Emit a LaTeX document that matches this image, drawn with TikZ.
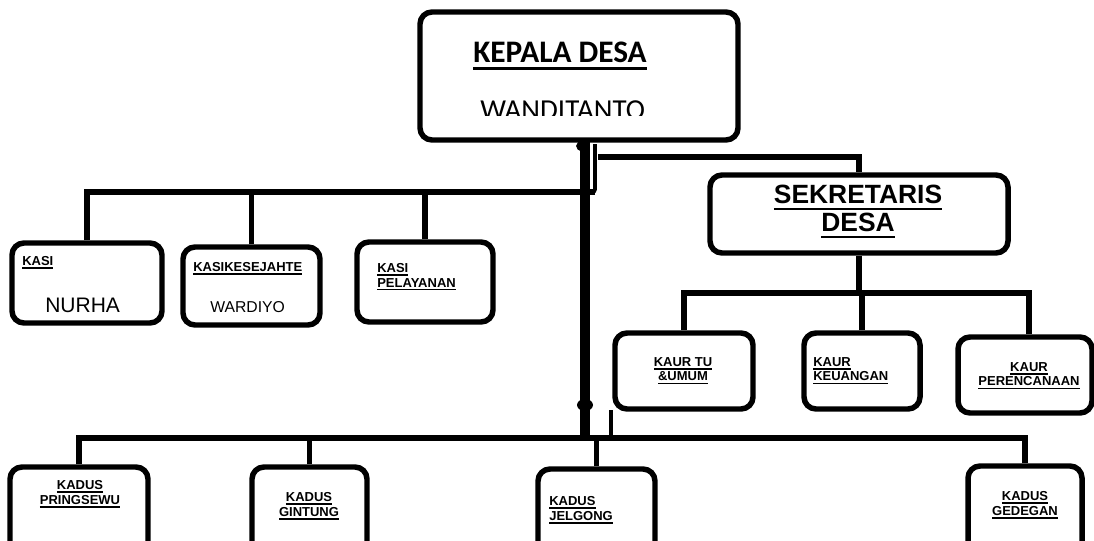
\documentclass[tikz,border=0pt]{standalone}
\usepackage{fontspec}
\setmainfont{Liberation Sans}
\newfontfamily\calib{Carlito}
\usetikzlibrary{fit}
\newcommand\myul[2]{\leavevmode\vtop{\hbox{#2}\kern0.14em\hrule height #1}}
\tikzset{
  box/.style={draw, line width=4.1pt, rounded corners=9pt, inner sep=0pt},
  conn/.style={line width=3.8pt},
  thinconn/.style={line width=2.8pt},
  trunk/.style={line width=7pt},
  lbl/.style={inner sep=0pt, font=\bfseries\fontsize{9.75}{11}\selectfont},
}
\begin{document}
\begin{tikzpicture}[x=0.75pt,y=-0.75pt]
\useasboundingbox (0,0) rectangle (1094,540);
% boxes
\node[box, fit={(420,12)(738,140)}] (kd) {};
\node[box, fit={(12,243)(162,323)}] (ks1) {};
\node[box, fit={(183,247)(320,325)}] (ks2) {};
\node[box, fit={(357,242)(493,322)}] (ks3) {};
\node[box, fit={(710,175)(1008,253)}] (sek) {};
\node[box, fit={(615,333)(753,409)}] (kr1) {};
\node[box, fit={(804,333)(920,409)}] (kr2) {};
\node[box, fit={(958,337)(1092,413)}] (kr3) {};
\node[box, fit={(10,467)(148,570)}] (kds1) {};
\node[box, fit={(252,467)(367,570)}] (kds2) {};
\node[box, fit={(538,469)(655,570)}] (kds3) {};
\node[box, fit={(968,466)(1082,570)}] (kds4) {};
% junction coordinates
\coordinate (tTop) at (585,141);
\coordinate (tBot) at (585,438);
\coordinate (jLt) at (595,144);
\coordinate (jL) at (595,192);
\coordinate (jR) at (598,157);
\coordinate (jS) at (859,293);
\coordinate (jB) at (611,438);
\coordinate (jBr) at (611,410);
% trunk
\draw[trunk] (tTop) -- (tBot);
\fill (582,146) ellipse (6 and 5);
\fill (585,405) ellipse (8 and 6);
% left branch (kasi)
\draw[thinconn, rounded corners=2pt] (jLt) -- (jL) -- (424,192);
\draw[line width=5pt] (424,192) -- (jL);
\draw[conn] (ks1.north) |- (jL);
\draw[conn] (ks2.north) -- (ks2.north |- jL);
\draw[conn] (ks3.north) -- (ks3.north |- jL);
% right branch (sekretaris)
\draw[conn] (jR) -| (sek.north);
\draw[conn] (sek.south) -- (jS);
\draw[conn] (kr1.north) |- (jS);
\draw[conn] (kr2.north) -- (kr2.north |- jS);
\draw[conn] (kr3.north -| 1029,0) |- (jS);
% bottom branch (kadus)
\draw[thinconn] (jBr) -- (jB);
\draw[conn] (kds1.north) |- (jB) -| (kds4.north);
\draw[conn] (kds2.north) -- (kds2.north |- jB);
\draw[conn] (kds3.north) -- (kds3.north |- jB);
% texts
\node[inner sep=0pt, anchor=base west, font=\calib\bfseries\fontsize{23.5}{26}\selectfont] (t1) at (473,62) {\myul{2.2pt}{KEPALA DESA}};
\begin{scope}
\clip (422,14) rectangle (736,115);
\node[inner sep=0pt, anchor=base west, font=\calib\fontsize{21.7}{24}\selectfont] (t2) at (480,119) {WANDITANTO};
\end{scope}
\node[lbl, anchor=base west] (t3) at (22,265) {\myul{1.2pt}{KASI}};
\node[inner sep=0pt, anchor=base west, font=\fontsize{15.75}{18}\selectfont] (t4) at (45,312) {NURHA};
\node[lbl, anchor=base west] (t5) at (193,271) {\myul{1.2pt}{KASIKESEJAHTE}};
\node[inner sep=0pt, anchor=base west, font=\fontsize{11.8}{14}\selectfont] (t6) at (210,312) {WARDIYO};
\node[lbl, anchor=north west, align=left] (t7) at (377,263) {\myul{1.2pt}{KASI}\\\myul{1.2pt}{PELAYANAN}};
\node[inner sep=0pt, anchor=north, align=center, font=\bfseries\fontsize{19.8}{21}\selectfont] (t8) at (858,185) {\myul{2pt}{SEKRETARIS}\\\myul{2pt}{DESA}};
\node[lbl, anchor=north, align=center] (t9) at (683,357) {\myul{1.2pt}{KAUR TU}\\\myul{1.2pt}{\&UMUM}};
\node[lbl, anchor=north west, align=left] (t10) at (813,357) {\myul{1.2pt}{KAUR}\\\myul{1.2pt}{KEUANGAN}};
\node[lbl, anchor=north, align=center] (t11) at (1029,362) {\myul{1.2pt}{KAUR}\\\myul{1.2pt}{PERENCANAAN}};
\node[lbl, anchor=north, align=center] (t12) at (80,480) {\myul{1.2pt}{KADUS}\\\myul{1.2pt}{PRINGSEWU}};
\node[lbl, anchor=north, align=center] (t13) at (309,492) {\myul{1.2pt}{KADUS}\\\myul{1.2pt}{GINTUNG}};
\node[lbl, anchor=north west, align=left] (t14) at (549,496) {\myul{1.2pt}{KADUS}\\\myul{1.2pt}{JELGONG}};
\node[lbl, anchor=north, align=center] (t15) at (1025,491) {\myul{1.2pt}{KADUS}\\\myul{1.2pt}{GEDEGAN}};
\end{tikzpicture}
\end{document}
